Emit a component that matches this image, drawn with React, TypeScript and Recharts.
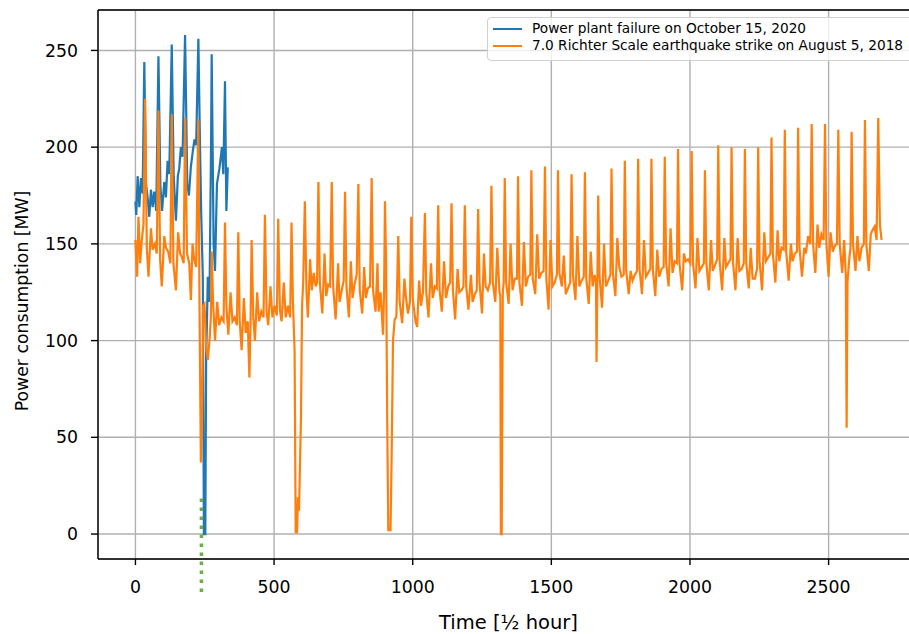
import React from 'react';
import { LineChart, Line, XAxis, YAxis, CartesianGrid, ReferenceLine } from 'recharts';

// x = time index [half hour], y = power [MW]
const blueFailure: [number, number][] = [
  [0, 172], [3, 165], [8, 185], [14, 169], [20, 184], [26, 176], [32, 244], [38, 181], [44, 174], [50, 164],
  [56, 178], [62, 169], [68, 177], [75, 167], [83, 247], [90, 180], [96, 167], [104, 182], [110, 174], [116, 193],
  [122, 186], [131, 253], [138, 185], [146, 162], [153, 185], [158, 189], [164, 200], [170, 195], [179, 258], [187, 181],
  [193, 175], [200, 190], [207, 198], [213, 204], [219, 201], [227, 256], [233, 200], [237, 167], [243, 133], [247, 0],
  [252, 0], [255, 92], [258, 110], [261, 133], [267, 120], [273, 205], [275, 248], [282, 150], [287, 136], [294, 181],
  [303, 189], [312, 200], [317, 186], [323, 234], [328, 167], [333, 189], [336, 189],
];

const orangeQuake: [number, number][] = [
  [0, 152], [6, 133], [11, 164], [17, 140], [23, 152], [29, 160],
  [35, 225], [41, 148], [47, 133], [56, 158], [62, 147], [70, 150], [77, 145],
  [83, 219], [89, 142], [95, 128], [104, 154], [110, 148], [118, 146], [126, 140],
  [131, 217], [137, 140], [146, 126], [154, 156], [161, 145], [168, 143], [174, 140],
  [179, 215], [186, 145], [194, 140], [200, 121], [206, 150], [212, 142], [219, 138],
  [227, 214], [231, 120], [236, 37], [240, 60], [244, 118], [249, 119], [255, 97], [261, 90], [267, 100], [272, 112],
  [275, 146], [280, 120], [287, 100], [295, 120], [302, 108], [310, 112], [318, 110],
  [323, 161], [328, 118], [335, 103], [343, 125], [350, 110], [358, 112], [366, 108],
  [371, 156], [376, 110], [383, 95], [391, 122], [398, 104], [405, 110], [411, 81], [415, 108],
  [419, 152], [425, 112], [431, 100], [439, 125], [446, 110], [454, 115], [462, 112],
  [467, 165], [473, 115], [479, 108], [487, 128], [494, 112], [502, 118], [510, 113],
  [515, 163], [521, 116], [527, 110], [535, 130], [542, 112], [550, 118], [558, 112],
  [563, 161], [568, 120], [574, 95], [578, 1], [583, 1], [586, 19], [590, 12], [597, 60], [601, 118], [605, 130],
  [611, 172], [617, 125], [622, 112], [630, 142], [636, 126], [643, 135], [650, 128], [655, 130],
  [660, 182], [665, 130], [674, 114], [682, 145], [688, 123], [695, 129], [702, 128],
  [708, 182], [713, 128], [722, 111], [731, 140], [736, 120], [744, 126], [751, 131],
  [756, 177], [761, 128], [770, 112], [777, 141], [783, 122], [790, 129], [798, 134],
  [804, 181], [809, 126], [818, 114], [825, 138], [831, 122], [838, 127], [846, 128],
  [852, 184], [857, 126], [866, 115], [873, 140], [877, 115], [884, 125], [893, 103], [897, 128],
  [900, 172], [904, 140], [908, 60], [912, 2], [920, 2], [924, 40], [929, 100], [935, 111], [941, 112],
  [948, 154], [953, 120], [962, 109], [970, 132], [976, 122], [983, 114], [990, 120],
  [995, 164], [1000, 122], [1010, 110], [1016, 107], [1023, 131], [1030, 118], [1037, 125],
  [1044, 166], [1049, 125], [1057, 112], [1066, 140], [1072, 122], [1080, 128], [1087, 127],
  [1092, 170], [1097, 126], [1105, 115], [1113, 141], [1120, 122], [1128, 128], [1135, 130],
  [1140, 171], [1145, 126], [1153, 111], [1162, 137], [1168, 125], [1176, 126], [1183, 128],
  [1188, 170], [1193, 128], [1201, 116], [1210, 134], [1216, 120], [1224, 124], [1231, 126],
  [1236, 168], [1241, 130], [1250, 114], [1257, 145], [1263, 128], [1271, 126], [1279, 130],
  [1284, 180], [1289, 130], [1298, 120], [1305, 148], [1313, 125], [1316, 123], [1318, 0], [1321, 0], [1325, 125], [1328, 130],
  [1332, 184], [1337, 130], [1346, 119], [1353, 150], [1360, 126], [1368, 132], [1376, 132],
  [1380, 185], [1385, 130], [1394, 118], [1401, 151], [1408, 128], [1416, 133], [1424, 134],
  [1428, 188], [1433, 132], [1442, 124], [1449, 155], [1456, 132], [1464, 135], [1472, 136],
  [1477, 190], [1482, 132], [1490, 116], [1497, 152], [1504, 128], [1512, 130], [1520, 134],
  [1524, 188], [1529, 135], [1538, 128], [1545, 144], [1552, 124], [1560, 127], [1568, 130],
  [1573, 186], [1578, 134], [1587, 121], [1594, 154], [1601, 128], [1609, 131], [1617, 133],
  [1621, 187], [1626, 132], [1635, 119], [1642, 146], [1649, 128], [1656, 134], [1661, 130], [1663, 89], [1666, 130],
  [1669, 175], [1674, 133], [1683, 117], [1690, 150], [1697, 128], [1705, 131], [1713, 134],
  [1717, 189], [1722, 135], [1731, 123], [1738, 153], [1745, 138], [1753, 133], [1761, 134],
  [1765, 193], [1770, 136], [1779, 124], [1786, 136], [1793, 131], [1801, 134], [1809, 136],
  [1813, 194], [1818, 137], [1827, 124], [1834, 152], [1841, 133], [1849, 135], [1857, 137],
  [1861, 194], [1866, 137], [1875, 123], [1882, 147], [1889, 133], [1897, 137], [1905, 138],
  [1909, 195], [1914, 140], [1923, 128], [1930, 158], [1937, 135], [1945, 141], [1953, 140],
  [1957, 199], [1962, 140], [1972, 126], [1978, 145], [1985, 141], [1993, 142], [2001, 140],
  [2006, 198], [2011, 140], [2020, 127], [2027, 153], [2034, 136], [2042, 138], [2050, 140],
  [2054, 188], [2059, 140], [2068, 126], [2076, 152], [2082, 136], [2090, 139], [2098, 142],
  [2102, 201], [2107, 141], [2116, 126], [2124, 153], [2130, 138], [2138, 140], [2146, 142],
  [2150, 200], [2155, 141], [2164, 126], [2172, 153], [2178, 136], [2186, 137], [2194, 140],
  [2198, 199], [2203, 140], [2212, 127], [2219, 148], [2226, 132], [2234, 132], [2242, 137],
  [2246, 200], [2251, 141], [2260, 126], [2268, 156], [2274, 141], [2282, 143], [2290, 145],
  [2294, 205], [2299, 145], [2308, 130], [2316, 157], [2322, 141], [2330, 148], [2338, 147],
  [2342, 209], [2347, 146], [2356, 131], [2364, 150], [2370, 141], [2378, 145], [2386, 146],
  [2390, 210], [2395, 148], [2404, 133], [2412, 148], [2418, 145], [2426, 154], [2434, 150],
  [2439, 212], [2444, 150], [2452, 135], [2460, 160], [2466, 148], [2474, 155], [2482, 152],
  [2487, 212], [2492, 150], [2500, 133], [2507, 156], [2515, 146], [2522, 149], [2530, 150],
  [2535, 209], [2540, 150], [2549, 135], [2556, 152], [2562, 134], [2565, 55], [2568, 130], [2575, 143], [2579, 148],
  [2583, 208], [2588, 150], [2597, 136], [2604, 154], [2611, 141], [2619, 148], [2627, 150],
  [2631, 214], [2636, 150], [2645, 136], [2652, 155], [2658, 157], [2666, 159], [2673, 152],
  [2679, 215], [2685, 160], [2691, 152],
];

const xTicks = [0, 500, 1000, 1500, 2000, 2500];
const yTicks = [0, 50, 100, 150, 200, 250];
const xDomain: [number, number] = [-135, 2826];
const yDomain: [number, number] = [-12.9, 270.9];
const failureTime = 238;

const seriesNames = {
  blue: 'Power plant failure on October 15, 2020',
  orange: '7.0 Richter Scale earthquake strike on August 5, 2018',
};

const toRows = (pts: [number, number][]) => pts.map(([x, y]) => ({ x, y }));

const FONT = 'DejaVu Sans, sans-serif';
const tickStyle = { fill: '#000', fontSize: 17.3, fontFamily: FONT };

function YTitle() {
  return (
    <text x={22} y={301} transform="rotate(-90 22 301)" textAnchor="middle" dominantBaseline="central"
      fill="#000" fontSize={17.3} fontFamily={FONT}>
      Power consumption [MW]
    </text>
  );
}

function LegendBox() {
  const row = (color: string, text: string) => (
    <div style={{ display: 'flex', alignItems: 'center', height: 17 }}>
      <div style={{ width: 29, height: 2, background: color, marginRight: 10 }} />
      <span style={{ whiteSpace: 'nowrap' }}>{text}</span>
    </div>
  );
  return (
    <div
      style={{
        position: 'absolute', left: 487, top: 17, width: 440, height: 44, boxSizing: 'border-box',
        padding: '2px 0 0 5px', border: '1px solid #d0d0d0', borderRadius: 4,
        background: 'rgba(255,255,255,0.8)', fontFamily: FONT, fontSize: 13.7, color: '#000', lineHeight: '17px',
      }}
    >
      {row('#1f77b4', seriesNames.blue)}
      {row('#ff7f0e', seriesNames.orange)}
    </div>
  );
}

export default function App() {
  return (
    <div style={{ position: 'fixed', left: 0, top: 0, width: 909, height: 634, overflow: 'hidden', background: '#fff' }}>
      <LineChart width={925} height={634} margin={{ top: 10, right: 6, bottom: 0, left: 0 }}>
        <CartesianGrid stroke="#b0b0b0" strokeWidth={1.4} />
        <XAxis
          type="number" dataKey="x" domain={xDomain} ticks={xTicks} allowDataOverflow
          height={75} tickSize={6} tickMargin={16} tick={tickStyle}
          axisLine={{ stroke: '#000', strokeWidth: 1.4 }} tickLine={{ stroke: '#000', strokeWidth: 1.4 }}
          label={{ value: 'Time [½ hour]', position: 'insideBottom', offset: 5, fill: '#000', fontSize: 19.5, fontFamily: FONT }}
        />
        <YAxis
          type="number" domain={yDomain} ticks={yTicks} allowDataOverflow
          width={98} tickSize={7} tickMargin={13} tick={tickStyle}
          axisLine={{ stroke: '#000', strokeWidth: 1.4 }} tickLine={{ stroke: '#000', strokeWidth: 1.4 }}
          label={{ value: 'Power consumption [MW]', content: () => <YTitle /> }}
        />
        <ReferenceLine y={yDomain[1]} stroke="#000" strokeWidth={1.4} />
        <Line data={toRows(blueFailure)} dataKey="y" type="linear" stroke="#1f77b4" strokeWidth={2.2} dot={false} isAnimationActive={false} />
        <Line data={toRows(orangeQuake)} dataKey="y" type="linear" stroke="#ff7f0e" strokeWidth={2.2} dot={false} isAnimationActive={false} />
        <ReferenceLine
          segment={[{ x: failureTime, y: -30 }, { x: failureTime, y: 20 }]}
          ifOverflow="visible" stroke="#6aae48" strokeWidth={3.5} strokeDasharray="3.5 5.5"
        />
      </LineChart>
      <LegendBox />
    </div>
  );
}
